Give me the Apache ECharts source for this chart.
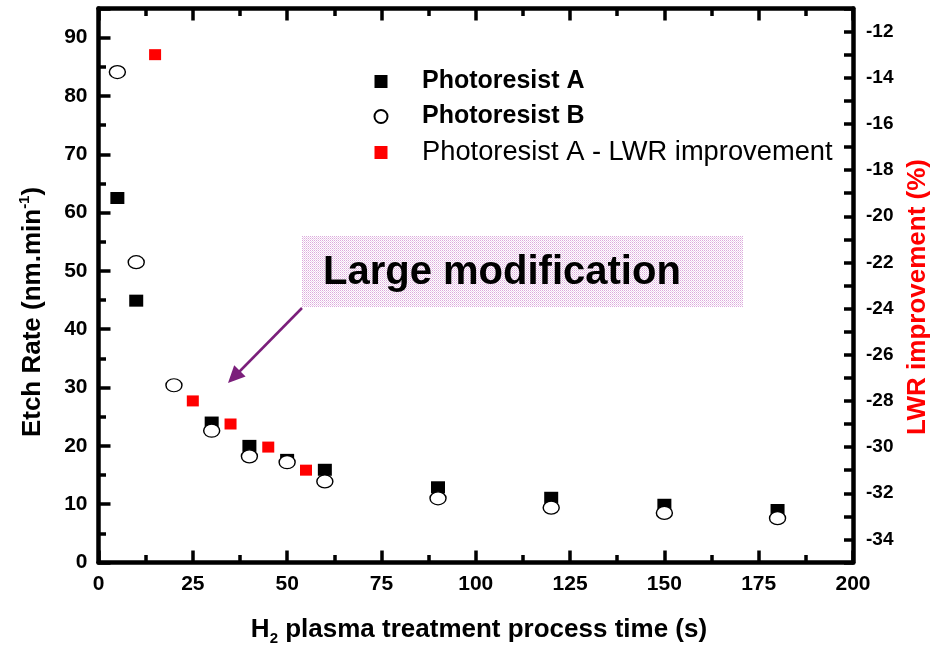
<!DOCTYPE html>
<html>
<head>
<meta charset="utf-8">
<script src="https://cdn.jsdelivr.net/npm/echarts@6/dist/echarts.min.js"></script>
<style>
  html, body { margin: 0; padding: 0; background: #fff; }
  #chart { width: 938px; height: 649px; }
</style>
</head>
<body>
<div id="chart"></div>
<script>
// Etch rate of two photoresists vs. H2 plasma time, plus LWR improvement of A
const timeA = [5, 10, 30, 40, 50, 60, 90, 120, 150, 180];
const etchA = [62.5, 44.9, 24.0, 20.0, 17.6, 15.9, 12.9, 11.1, 9.9, 9.0];

const timeB = [5, 10, 20, 30, 40, 50, 60, 90, 120, 150, 180];
const etchB = [84.1, 51.5, 30.4, 22.6, 18.2, 17.2, 13.9, 11.0, 9.4, 8.5, 7.6];

const timeLWR = [15, 25, 35, 45, 55];
const lwrA = [-13, -28, -29, -30, -31];

const seriesNames = ['Photoresist A', 'Photoresist B', 'Photoresist A - LWR improvement'];

const FONT = '"Liberation Sans", Arial, Helvetica, sans-serif';
const SQUARE = 'path://M0,0L10,0L10,10L0,10Z';
const pair = (xs, ys) => xs.map((x, i) => [x, ys[i]]);

// dotted fill used behind the annotation text
function dotPattern() {
  const c = document.createElement('canvas');
  c.width = 2; c.height = 2;
  const g = c.getContext('2d');
  g.fillStyle = '#ffffff'; g.fillRect(0, 0, 2, 2);
  g.fillStyle = '#dcaadc'; g.fillRect(0, 0, 1, 1);
  g.fillStyle = '#ecd2ec'; g.fillRect(1, 1, 1, 1);
  return c;
}

// fresh style objects for each axis
const axisLine = () => ({ show: true, onZero: false, lineStyle: { color: '#000', width: 4.5 } });
const majorTick = (len) => ({ show: true, inside: true, length: len, lineStyle: { color: '#000', width: 3.5 } });
const minorTick = () => ({ show: true, splitNumber: 2, length: 7.5, lineStyle: { color: '#000', width: 3.5 } });
const tickFont = () => ({ color: '#000', fontFamily: FONT, fontWeight: 'bold', fontSize: 21 });

const chart = echarts.init(document.getElementById('chart'), null, { renderer: 'canvas' });

chart.setOption({
  backgroundColor: '#fff',
  animation: false,
  grid: { left: 98.5, right: 85, top: 8.5, bottom: 86.5, containLabel: false },
  legend: {
    orient: 'vertical',
    left: 368.5,
    top: 64,
    itemWidth: 72,
    itemHeight: 13,
    itemGap: 10,
    selectedMode: false,
    data: [
      { name: seriesNames[0], icon: SQUARE, textStyle: { fontWeight: 'bold', fontSize: 25 } },
      { name: seriesNames[1], icon: 'circle', textStyle: { fontWeight: 'bold', fontSize: 25 } },
      { name: seriesNames[2], icon: SQUARE, textStyle: { fontWeight: 'normal', fontSize: 27.3 } }
    ],
    textStyle: { color: '#000', fontFamily: FONT }
  },
  xAxis: [
    {
      type: 'value', position: 'bottom', min: 0, max: 200, interval: 25,
      axisLine: axisLine(), axisTick: majorTick(12), minorTick: minorTick(),
      splitLine: { show: false },
      axisLabel: Object.assign({ margin: 11 }, tickFont())
    },
    {
      type: 'value', position: 'top', min: 0, max: 200, interval: 25,
      axisLine: axisLine(), axisTick: majorTick(12), minorTick: minorTick(),
      splitLine: { show: false }, axisLabel: { show: false }
    }
  ],
  yAxis: [
    {
      type: 'value', position: 'left', min: 0, max: 95, interval: 10,
      axisLine: axisLine(), axisTick: majorTick(12), minorTick: minorTick(),
      splitLine: { show: false },
      axisLabel: Object.assign({
        margin: 11,
        formatter: v => (v % 10 === 0 ? String(v) : '')
      }, tickFont())
    },
    {
      type: 'value', position: 'right', min: -35, max: -11, interval: 1,
      axisLine: axisLine(), axisTick: majorTick(9),
      splitLine: { show: false },
      axisLabel: {
        margin: 13, color: '#000', fontFamily: FONT, fontWeight: 'bold', fontSize: 19,
        formatter: v => (v % 2 === 0 ? String(v) : '')
      }
    }
  ],
  series: [
    {
      name: seriesNames[0], type: 'scatter', xAxisIndex: 0, yAxisIndex: 0,
      symbol: SQUARE, symbolSize: [14, 12], symbolKeepAspect: false,
      itemStyle: { color: '#000', opacity: 1 },
      data: pair(timeA, etchA), z: 2
    },
    {
      name: seriesNames[1], type: 'scatter', xAxisIndex: 0, yAxisIndex: 0,
      symbol: 'circle', symbolSize: [16, 13],
      itemStyle: { color: '#fff', borderColor: '#000', borderWidth: 1.3, opacity: 1 },
      data: pair(timeB, etchB), z: 3
    },
    {
      name: seriesNames[2], type: 'scatter', xAxisIndex: 0, yAxisIndex: 1,
      symbol: SQUARE, symbolSize: [12, 11], symbolKeepAspect: false,
      itemStyle: { color: '#ff0000', opacity: 1 },
      data: pair(timeLWR, lwrA), z: 4
    }
  ],
  graphic: [
    // axis titles
    {
      type: 'text', x: 33, y: 312, rotation: Math.PI / 2,
      style: {
        text: '{a|Etch Rate (nm.min}{s|-1}{a|)}',
        align: 'center', verticalAlign: 'middle',
        rich: {
          a: { fontFamily: FONT, fontWeight: 'bold', fontSize: 26, lineHeight: 32, fill: '#000' },
          s: { fontFamily: FONT, fontWeight: 'bold', fontSize: 15, lineHeight: 12, verticalAlign: 'top', fill: '#000' }
        }
      }
    },
    {
      type: 'text', x: 479, y: 630,
      style: {
        text: '{a|H}{s|2}{a| plasma treatment process time (s)}',
        align: 'center', verticalAlign: 'middle',
        rich: {
          a: { fontFamily: FONT, fontWeight: 'bold', fontSize: 26, lineHeight: 32, fill: '#000' },
          s: { fontFamily: FONT, fontWeight: 'bold', fontSize: 15, lineHeight: 12, verticalAlign: 'bottom', fill: '#000' }
        }
      }
    },
    {
      type: 'text', x: 918, y: 297, rotation: Math.PI / 2,
      style: {
        text: 'LWR improvement (%)',
        align: 'center', verticalAlign: 'middle',
        font: 'bold 26px ' + FONT, fill: '#ff0000'
      }
    },
    // annotation box, label and arrow
    {
      type: 'rect', shape: { x: 302, y: 236, width: 441, height: 71 },
      style: { fill: { image: dotPattern(), repeat: 'repeat' }, stroke: null }, z: 10
    },
    {
      type: 'text', x: 323, y: 273,
      style: { text: 'Large modification', font: 'bold 40px ' + FONT, fill: '#000', align: 'left', verticalAlign: 'middle' },
      z: 11
    },
    {
      type: 'line', shape: { x1: 302, y1: 308, x2: 239.5, y2: 371.5 },
      style: { stroke: '#7b1f7b', lineWidth: 2.5 }, z: 11
    },
    {
      type: 'polygon', shape: { points: [[228, 383], [245.6, 376.5], [234.2, 365.3]] },
      style: { fill: '#7b1f7b' }, z: 11
    }
  ]
});
</script>
</body>
</html>
